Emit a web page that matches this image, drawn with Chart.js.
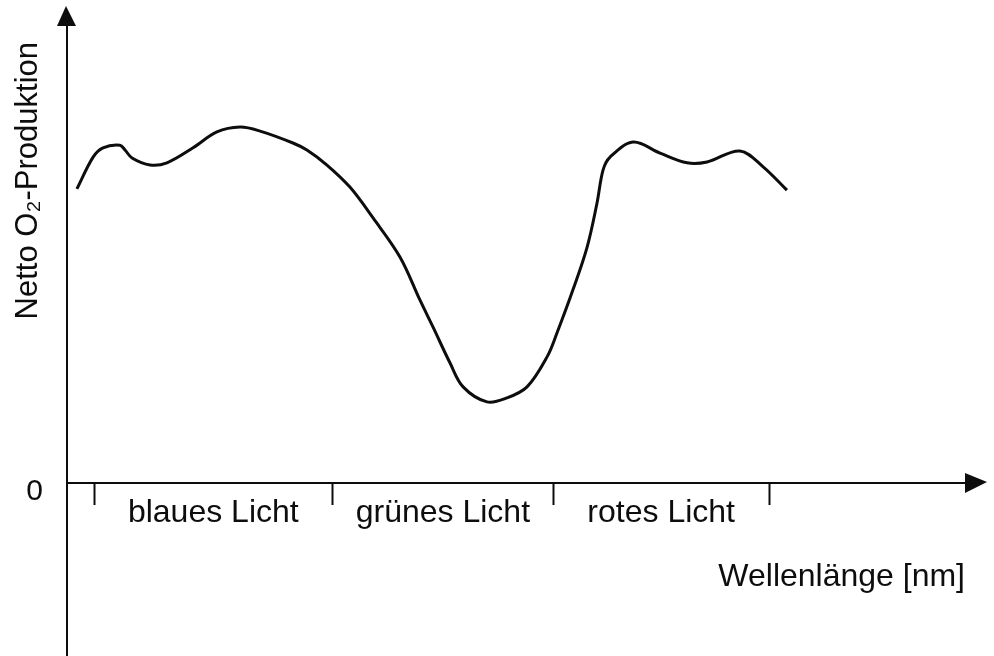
<!DOCTYPE html>
<html>
<head>
<meta charset="utf-8">
<title>Netto O2-Produktion</title>
<script src="https://cdn.jsdelivr.net/npm/chart.js@4.4.1/dist/chart.umd.min.js"></script>
<style>
  html, body { margin: 0; padding: 0; background: #fff; }
  #grafico { display: block; }
</style>
</head>
<body>
<canvas id="grafico" width="994" height="656"></canvas>
<script>
// Wellenlaenge in nm und Netto O2-Produktion (willkuerliche Einheiten)
var wellenlaenge = [392.4, 399.6, 404.0, 411.5, 413.8, 416.9, 424.9, 432.4, 444.0, 454.6,
                    464.9, 473.8, 488.4, 494.6, 503.5, 513.7, 524.0, 536.0, 544.8, 550.6,
                    558.2, 564.0, 574.6, 583.5, 592.4, 601.3, 605.7, 612.8, 619.1, 623.5,
                    626.2, 629.3, 639.5, 651.5, 663.5, 672.4, 687.0, 697.3, 707.9];
var produktion = [66.7, 73.9, 76.0, 76.6, 75.5, 73.7, 72.1, 72.6, 76.0, 79.6,
                  80.7, 79.8, 77.1, 75.5, 72.1, 67.1, 60.1, 51.2, 41.5, 35.4,
                  27.2, 21.8, 18.4, 19.3, 21.8, 28.6, 34.0, 43.8, 53.5, 63.5,
                  71.0, 73.9, 77.3, 74.8, 72.6, 72.8, 75.3, 71.7, 66.4];

// Grenzen der Lichtbereiche und ihre Namen
var bereichsgrenzen = [400, 506, 604, 700];
var bereichsnamen = ["blaues Licht", "grünes Licht", "rotes Licht"];
var yTicks = [0];

var schrift = "'Liberation Sans', Arial, sans-serif";
var farbe = "#0d0d0d";

var punkte = [];
for (var i = 0; i < wellenlaenge.length; i++) {
    punkte.push({x: wellenlaenge[i], y: produktion[i]});
}

// Mitten der Bereiche -> Position der Beschriftung
var mitten = [];
for (var j = 0; j < bereichsnamen.length; j++) {
    mitten.push((bereichsgrenzen[j] + bereichsgrenzen[j + 1]) / 2);
}

function istGrenze(v) {
    return bereichsgrenzen.indexOf(v) >= 0;
}

// Pfeile an den Achsen, Verlaengerung der y-Achse nach unten
var pfeile = {
    id: 'pfeile',
    afterDraw: function(chart) {
        var ctx = chart.ctx;
        var a = chart.chartArea;
        var y0 = chart.scales.y.getPixelForValue(0);
        ctx.save();
        ctx.strokeStyle = farbe;
        ctx.fillStyle = farbe;
        ctx.lineWidth = 2;
        ctx.beginPath();
        ctx.moveTo(a.left, a.top);
        ctx.lineTo(a.left, 22);
        ctx.moveTo(a.left, a.bottom);
        ctx.lineTo(a.left, chart.height);
        ctx.stroke();
        // Pfeil oben
        ctx.beginPath();
        ctx.moveTo(a.left - 10, 26);
        ctx.lineTo(a.left + 9, 26);
        ctx.lineTo(a.left - 1, 6);
        ctx.closePath();
        ctx.fill();
        // Pfeil rechts
        ctx.beginPath();
        ctx.moveTo(a.right, y0 - 10);
        ctx.lineTo(a.right, y0 + 10);
        ctx.lineTo(a.right + 22, y0 - 1);
        ctx.closePath();
        ctx.fill();
        ctx.restore();
    }
};

var ctx = document.getElementById('grafico').getContext('2d');
var chart = new Chart(ctx, {
    type: 'line',
    data: {
        datasets: [{
            label: 'Netto O2-Produktion',
            data: punkte,
            borderColor: farbe,
            borderWidth: 3,
            pointRadius: 0,
            fill: false,
            tension: 0.35
        }]
    },
    options: {
        responsive: false,
        animation: false,
        devicePixelRatio: 1,
        layout: {
            padding: {top: 42, right: 29, bottom: 0, left: 0}
        },
        plugins: {
            legend: {display: false},
            tooltip: {enabled: false}
        },
        scales: {
            x: {
                type: 'linear',
                position: 'bottom',
                min: 388,
                max: 787,
                afterBuildTicks: function(scale) {
                    var t = [];
                    bereichsgrenzen.forEach(function(v) { t.push({value: v}); });
                    mitten.forEach(function(v) { t.push({value: v}); });
                    t.sort(function(p, q) { return p.value - q.value; });
                    scale.ticks = t;
                },
                afterFit: function(scale) {
                    scale.height = 173;
                },
                grid: {
                    display: true,
                    drawOnChartArea: false,
                    drawTicks: true,
                    tickLength: 22,
                    tickWidth: 2,
                    tickColor: function(c) {
                        return (c.tick && istGrenze(c.tick.value)) ? farbe : 'rgba(0,0,0,0)';
                    }
                },
                border: {display: true, color: farbe, width: 2},
                ticks: {
                    autoSkip: false,
                    maxRotation: 0,
                    padding: -11,
                    color: farbe,
                    font: {family: schrift, size: 32},
                    callback: function(value) {
                        var k = mitten.indexOf(value);
                        return k >= 0 ? bereichsnamen[k] : '';
                    }
                },
                title: {
                    display: true,
                    text: 'Wellenlänge [nm]',
                    align: 'end',
                    color: farbe,
                    font: {family: schrift, size: 32},
                    padding: {top: 0, bottom: 60}
                }
            },
            y: {
                type: 'linear',
                position: 'left',
                min: 0,
                max: 100,
                afterBuildTicks: function(scale) {
                    scale.ticks = yTicks.map(function(v) { return {value: v}; });
                },
                afterFit: function(scale) {
                    scale.width = 67;
                },
                grid: {display: false, drawTicks: false},
                border: {display: true, color: farbe, width: 2},
                ticks: {
                    padding: 24,
                    labelOffset: 9,
                    color: farbe,
                    font: {family: schrift, size: 30}
                },
                title: {
                    display: true,
                    text: 'Netto O₂-Produktion',
                    align: 'end',
                    color: farbe,
                    font: {family: schrift, size: 31},
                    padding: {top: 10, bottom: 0}
                }
            }
        }
    },
    plugins: [pfeile]
});
</script>
</body>
</html>
